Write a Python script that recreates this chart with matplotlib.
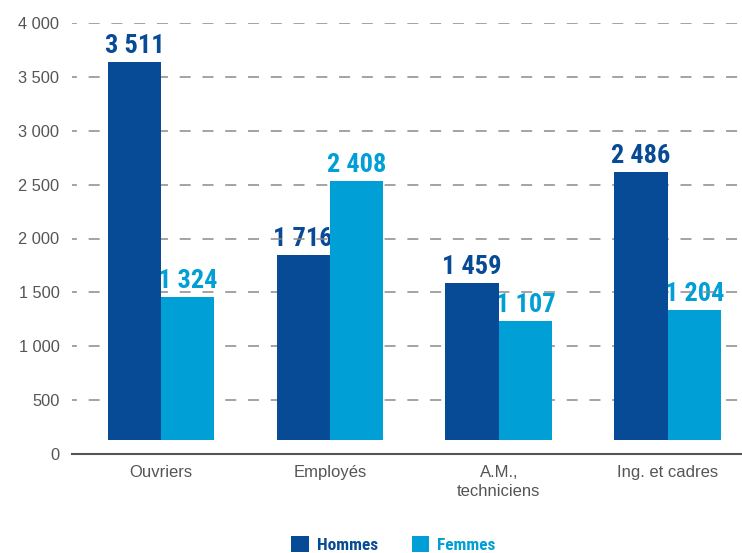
import matplotlib
matplotlib.use("Agg")
import matplotlib.pyplot as plt
import numpy as np
from matplotlib import font_manager

categories = ["Ouvriers", "Employés", "A.M.,\ntechniciens", "Ing. et cadres"]
hommes = [3511, 1716, 1459, 2486]
femmes = [1324, 2408, 1107, 1204]
yticks = [0, 500, 1000, 1500, 2000, 2500, 3000, 3500, 4000]
series_names = ["Hommes", "Femmes"]

c_h = "#074a96"
c_f = "#009fd6"
gray = "#555555"

names = {f.name for f in font_manager.fontManager.ttflist}
narrow = "Liberation Sans"
for cand in ["Roboto Condensed", "Liberation Sans Narrow", "Asap Condensed", "Barlow Condensed"]:
    if cand in names:
        narrow = cand
        break
nfam = [narrow, "Liberation Sans", "DejaVu Sans"]

def fmt(v):
    return f"{v:,}".replace(",", " ")

fig = plt.figure(figsize=(7.42, 5.53), dpi=100)
ax = fig.add_axes([72/742, (553-454)/553, 1 - 72/742, (454-23)/553])

x = np.arange(len(categories))
w = 0.316
base = 130
bh = ax.bar(x - w/2, hommes, w, bottom=base, color=c_h, zorder=2, label=series_names[0])
bf = ax.bar(x + w/2, femmes, w, bottom=base, color=c_f, zorder=2, label=series_names[1])

for bars, vals, col in ((bh, hommes, c_h), (bf, femmes, c_f)):
    for b, v in zip(bars, vals):
        ax.annotate(fmt(v), (b.get_x() + b.get_width()/2, b.get_y() + b.get_height()),
                    xytext=(0, 6.5), textcoords="offset points", ha="center", va="baseline",
                    fontsize=19, fontweight="bold", color=col, family=nfam,
                    zorder=1)

ax.set_xlim(-0.527, 3.44)
ax.set_ylim(0, 4000)
ax.set_yticks(yticks)
ax.set_yticklabels([fmt(t) for t in yticks], fontsize=11.8, color=gray, family="Liberation Sans")
ax.set_xticks(x)
ax.set_xticklabels(categories, fontsize=12, color=gray, family="Liberation Sans", linespacing=1.35)
ax.tick_params(axis="both", length=0)
ax.tick_params(axis="y", pad=9)
ax.tick_params(axis="x", pad=8)

ax.set_axisbelow("line")
ax.yaxis.grid(True, color="#8a8a8a", linewidth=1.1, linestyle=(4, (7.2, 7.7)))
gl = ax.yaxis.get_gridlines()
gl[0].set_visible(False)

for s in ("top", "right", "left"):
    ax.spines[s].set_visible(False)
ax.spines["bottom"].set_color(gray)
ax.spines["bottom"].set_linewidth(1.5)
ax.spines["bottom"].set_zorder(3)

leg = fig.legend(handles=[bh, bf], labels=series_names, loc="center",
                 bbox_to_anchor=(0.53, 0.016), ncol=2, frameon=False,
                 prop={"family": nfam, "weight": "bold", "size": 12.5},
                 handlelength=1.03, handleheight=1.03, handletextpad=0.46,
                 columnspacing=1.95, borderpad=0, borderaxespad=0)
for t, col in zip(leg.get_texts(), (c_h, c_f)):
    t.set_color(col)

fig.savefig("out.png", dpi=100)
